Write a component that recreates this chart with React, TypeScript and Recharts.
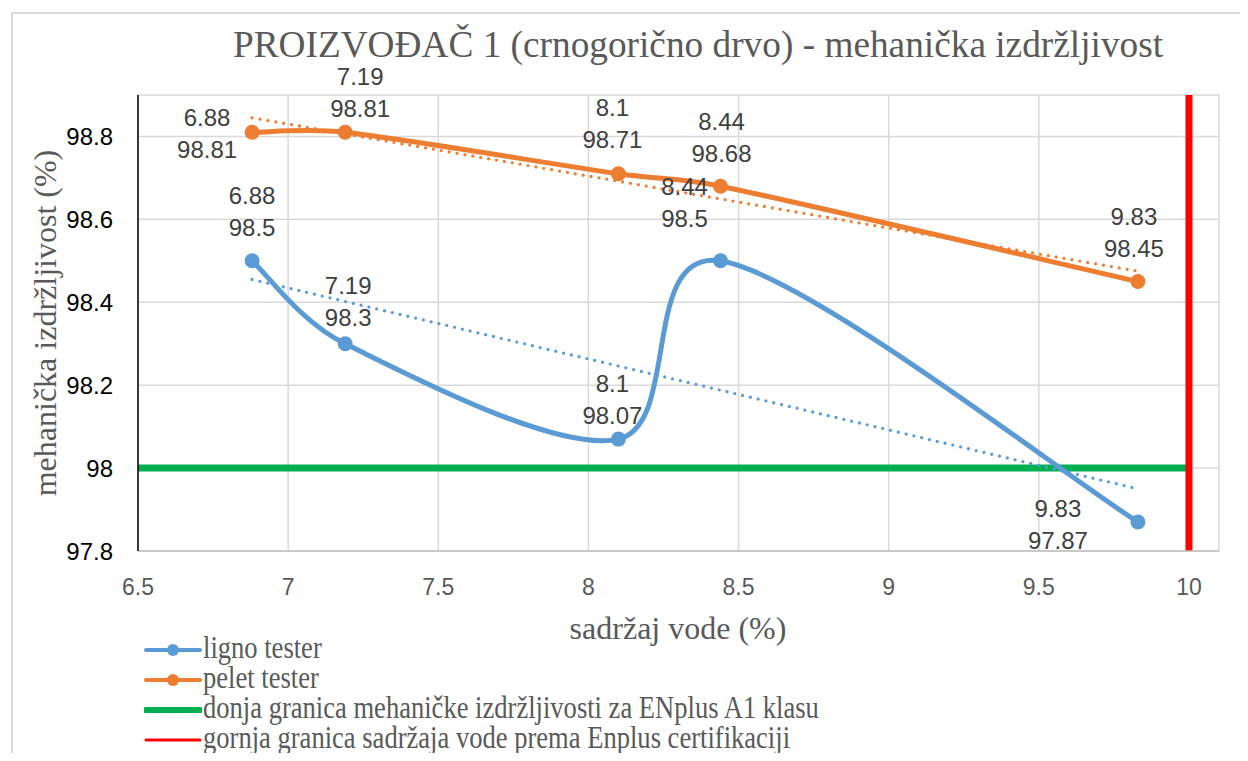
import React from "react";
import { LineChart, Line, XAxis, YAxis, CartesianGrid, ReferenceLine } from "recharts";

// sadržaj vode (%) for each sample
const moisture = [6.88, 7.19, 8.1, 8.44, 9.83];
// mehanička izdržljivost (%)
const lignoTester = [98.5, 98.3, 98.07, 98.5, 97.87];
const peletTester = [98.81, 98.81, 98.71, 98.68, 98.45];

// linear trendline ends
const trendX = [6.88, 9.83];
const lignoTrend = [98.455, 97.95];
const peletTrend = [98.845, 98.475];

const xTicks = [6.5, 7, 7.5, 8, 8.5, 9, 9.5, 10];
const yTicks = [97.8, 98, 98.2, 98.4, 98.6, 98.8];

const minDurability = 98; // donja granica ENplus A1
const maxMoisture = 10; // gornja granica sadržaja vode

const BLUE = "#5B9BD5";
const ORANGE = "#ED7D31";
const GREEN = "#00B050";
const RED = "#FF0000";

const SANS = '"Liberation Sans", Arial, sans-serif';
const SERIF = '"Liberation Serif", "Times New Roman", serif';

// label placement per point: [dx, dy of first line]
const lignoLabelPos = [[0, -65], [3, -58], [-6, -56], [-36, -74], [-80, -14]];
const peletLabelPos = [[-45, -15], [15, -56], [-6, -66], [1, -65], [-4, -65]];

const lignoData = moisture.map((x, i) => ({ x, y: lignoTester[i] }));
const peletData = moisture.map((x, i) => ({ x, y: peletTester[i] }));
const lignoTrendData = trendX.map((x, i) => ({ x, y: lignoTrend[i] }));
const peletTrendData = trendX.map((x, i) => ({ x, y: peletTrend[i] }));

// Excel-like smoothed line: Catmull-Rom tangents, capped by segment length
const tangent = (a: number[], b: number[], p1: number[], p2: number[]) => {
  let vx = (b[0] - a[0]) / 6;
  let vy = (b[1] - a[1]) / 6;
  const len = Math.hypot(vx, vy);
  const cap = Math.hypot(p2[0] - p1[0], p2[1] - p1[1]) * 0.4;
  if (len > cap && len > 0) {
    vx = (vx / len) * cap;
    vy = (vy / len) * cap;
  }
  return [vx, vy];
};

const excelSmooth = (context: any) => {
  let pts: number[][] = [];
  return {
    areaStart() {},
    areaEnd() {},
    lineStart() {
      pts = [];
    },
    point(x: number, y: number) {
      pts.push([+x, +y]);
    },
    lineEnd() {
      if (!pts.length) return;
      context.moveTo(pts[0][0], pts[0][1]);
      for (let i = 0; i < pts.length - 1; i++) {
        const p0 = pts[i - 1] || pts[i];
        const p1 = pts[i];
        const p2 = pts[i + 1];
        const p3 = pts[i + 2] || p2;
        const t1 = tangent(p0, p2, p1, p2);
        const t2 = tangent(p1, p3, p1, p2);
        context.bezierCurveTo(p1[0] + t1[0], p1[1] + t1[1], p2[0] - t2[0], p2[1] - t2[1], p2[0], p2[1]);
      }
    },
  };
};

const makeDot = (color: string, pos: number[][]) => (props: any) => {
  const { cx, cy, index, payload } = props;
  const [dx, dy] = pos[index] || [0, -60];
  const textStyle = { fontFamily: SANS, fontSize: 24, fill: "#404040" };
  return (
    <g key={`dot-${color}-${index}`}>
      <circle cx={cx} cy={cy} r={7.5} fill={color} />
      <text x={cx + dx} y={cy + dy} dy="0.36em" textAnchor="middle" style={textStyle}>
        {payload.x}
      </text>
      <text x={cx + dx} y={cy + dy + 32} dy="0.36em" textAnchor="middle" style={textStyle}>
        {payload.y}
      </text>
    </g>
  );
};

const legendItems = [
  { label: "ligno tester", color: BLUE, width: 4, marker: true },
  { label: "pelet tester", color: ORANGE, width: 4, marker: true },
  { label: "donja granica mehaničke izdržljivosti za ENplus A1 klasu", color: GREEN, width: 6, marker: false },
  { label: "gornja granica sadržaja vode prema Enplus certifikaciji", color: RED, width: 3, marker: false },
];

const ChartLegend = () => (
  <div style={{ position: "absolute", left: 136, top: 627, fontFamily: SERIF, fontSize: 32, color: "#595959" }}>
    {legendItems.map((item) => (
      <div key={item.label} style={{ display: "flex", alignItems: "center", height: 30, lineHeight: "30px", whiteSpace: "nowrap" }}>
        <svg width={58} height={16} style={{ marginRight: 1, flex: "none" }}>
          <line x1={2} y1={8} x2={56} y2={8} stroke={item.color} strokeWidth={item.width} strokeLinecap="round" />
          {item.marker && <circle cx={29} cy={8} r={6} fill={item.color} />}
        </svg>
        <span
          style={{
            display: "inline-block",
            position: "relative",
            top: -3,
            transform: "scaleX(0.83)",
            transformOrigin: "left center",
          }}
        >
          {item.label}
        </span>
      </div>
    ))}
  </div>
);

export default function App() {
  return (
    <div
      style={{
        position: "relative",
        width: 1240,
        height: 753,
        marginBottom: -8,
        overflow: "hidden",
        background: "#fff",
      }}
    >
      <div
        style={{
          position: "absolute",
          left: 3,
          top: 4,
          width: 1300,
          height: 800,
          border: "2px solid #d9d9d9",
          boxSizing: "border-box",
        }}
      />
      <div
        style={{
          position: "absolute",
          left: 690,
          top: 18,
          transform: "translateX(-50%)",
          whiteSpace: "nowrap",
          fontFamily: SERIF,
          fontSize: 37.3,
          lineHeight: 1,
          color: "#595959",
        }}
      >
        PROIZVOĐAČ 1 (crnogorično drvo) - mehanička izdržljivost
      </div>
      <div
        style={{
          position: "absolute",
          left: 37,
          top: 315,
          transform: "translate(-50%, -50%) rotate(-90deg)",
          whiteSpace: "nowrap",
          fontFamily: SERIF,
          fontSize: 32,
          lineHeight: 1,
          color: "#595959",
        }}
      >
        mehanička izdržljivost (%)
      </div>
      <div
        style={{
          position: "absolute",
          left: 670,
          top: 604,
          transform: "translateX(-50%)",
          whiteSpace: "nowrap",
          fontFamily: SERIF,
          fontSize: 32,
          lineHeight: 1,
          color: "#595959",
        }}
      >
        sadržaj vode (%)
      </div>
      <div style={{ position: "absolute", left: 0, top: 0 }}>
        <LineChart width={1240} height={745} margin={{ top: 87, right: 29, bottom: 162, left: 50 }}>
          <CartesianGrid stroke="#d9d9d9" strokeWidth={1.5} />
          <XAxis
            dataKey="x"
            type="number"
            domain={[6.5, 10.1]}
            ticks={xTicks}
            height={40}
            tickLine={false}
            tickSize={0}
            tickMargin={28}
            axisLine={{ stroke: "#bfbfbf", strokeWidth: 1.5 }}
            tick={{ fill: "#595959", fontSize: 23, fontFamily: SANS }}
          />
          <YAxis
            type="number"
            domain={[97.8, 98.9]}
            ticks={yTicks}
            width={80}
            tickLine={false}
            tickSize={0}
            tickMargin={25}
            axisLine={{ stroke: "#000", strokeWidth: 1.5 }}
            tick={{ fill: "#000", fontSize: 24, fontFamily: SANS }}
          />
          <ReferenceLine
            segment={[
              { x: 6.5, y: minDurability },
              { x: maxMoisture, y: minDurability },
            ]}
            stroke={GREEN}
            strokeWidth={7}
          />
          <ReferenceLine x={maxMoisture} stroke={RED} strokeWidth={7} />
          <Line
            data={lignoData}
            dataKey="y"
            type={excelSmooth as any}
            stroke={BLUE}
            strokeWidth={5}
            dot={makeDot(BLUE, lignoLabelPos)}
            activeDot={false}
            isAnimationActive={false}
          />
          <Line
            data={peletData}
            dataKey="y"
            type={excelSmooth as any}
            stroke={ORANGE}
            strokeWidth={5}
            dot={makeDot(ORANGE, peletLabelPos)}
            activeDot={false}
            isAnimationActive={false}
          />
          <Line
            data={lignoTrendData}
            dataKey="y"
            type="linear"
            stroke={BLUE}
            strokeWidth={3.3}
            strokeDasharray="0 8"
            strokeLinecap="round"
            dot={false}
            activeDot={false}
            isAnimationActive={false}
          />
          <Line
            data={peletTrendData}
            dataKey="y"
            type="linear"
            stroke={ORANGE}
            strokeWidth={3.3}
            strokeDasharray="0 8"
            strokeLinecap="round"
            dot={false}
            activeDot={false}
            isAnimationActive={false}
          />
        </LineChart>
      </div>
      <ChartLegend />
    </div>
  );
}
